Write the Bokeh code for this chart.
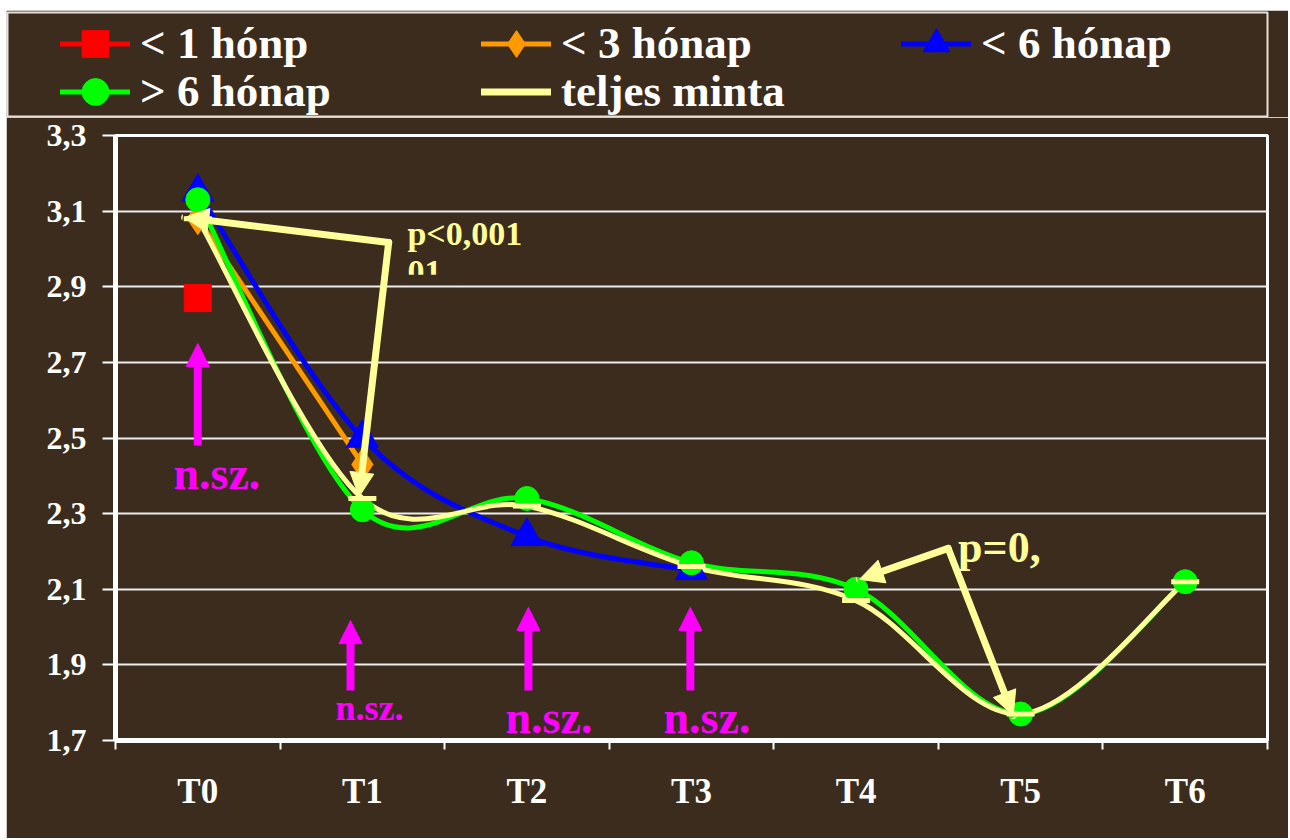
from bokeh.plotting import figure
from bokeh.models import (Range1d, FixedTicker, Legend, LegendItem, Arrow,
                          NormalHead, ColumnDataSource)
from bokeh.core.properties import value
from bokeh.embed import file_html
from bokeh.resources import INLINE

# ---------------- data ----------------
categories = ["T0", "T1", "T2", "T3", "T4", "T5", "T6"]
lt1_month = [2.87]                                        # < 1 hónp
lt3_month = [3.08, 2.43]                                  # < 3 hónap
lt6_month = [3.15, 2.50, 2.24, 2.15]                      # < 6 hónap
gt6_month = [3.13, 2.31, 2.34, 2.17, 2.10, 1.77, 2.12]    # > 6 hónap
full_sample = [3.08, 2.34, 2.32, 2.16, 2.07, 1.77, 2.12]  # teljes minta
series_names = ["< 1 hónp", "< 3 hónap", "< 6 hónap", "> 6 hónap", "teljes minta"]
y_ticks = [1.7, 1.9, 2.1, 2.3, 2.5, 2.7, 2.9, 3.1, 3.3]
y_tick_labels = ["1,7", "1,9", "2,1", "2,3", "2,5", "2,7", "2,9", "3,1", "3,3"]

# ---------------- styles ----------------
BG = "#3B2C1E"
RED = "#FF0000"
ORANGE = "#FF9900"
BLUE = "#0000FF"
GREEN = "#00FF00"
YEL = "#FFFF99"
MAG = "#FF00FF"
FONT_NAME = "Liberation Serif"
FONT = value(FONT_NAME)
W = 1282

xs = [i + 0.5 for i in range(len(categories))]


def smooth_segments(vals):
    n = len(vals)
    px = xs[:n]
    seg = dict(x0=[], y0=[], x1=[], y1=[], cx0=[], cy0=[], cx1=[], cy1=[])
    for i in range(n - 1):
        a = max(i - 1, 0)
        d = min(i + 2, n - 1)
        seg["x0"].append(px[i]); seg["y0"].append(vals[i])
        seg["x1"].append(px[i + 1]); seg["y1"].append(vals[i + 1])
        seg["cx0"].append(px[i] + (px[i + 1] - px[a]) / 6)
        seg["cy0"].append(vals[i] + (vals[i + 1] - vals[a]) / 6)
        seg["cx1"].append(px[i + 1] - (px[d] - px[i]) / 6)
        seg["cy1"].append(vals[i + 1] - (vals[d] - vals[i]) / 6)
    return ColumnDataSource(seg)


# ---------------- legend figure ----------------
lf = figure(width=W, height=107, x_range=Range1d(0, 1), y_range=Range1d(0, 1),
            x_axis_type=None, y_axis_type=None, toolbar_location=None,
            output_backend="svg", background_fill_color=BG, border_fill_color=BG,
            outline_line_color="#E8E2DA", outline_line_width=2,
            min_border_left=1, min_border_right=21, min_border_top=2,
            min_border_bottom=1)
lf.styles = {"margin-left": "6px", "margin-top": "10px"}

nan = float("nan")


def proxy(color, marker, lw):
    rs = [lf.line(x=[nan, nan], y=[nan, nan], line_color=color, line_width=lw,
                  line_cap="round")]
    if marker:
        rs.append(lf.scatter(x=[nan], y=[nan], marker=marker, size=27,
                             fill_color=color, line_color=color))
    return rs


proxies = [proxy(RED, "square", 5), proxy(ORANGE, "diamond", 5),
           proxy(BLUE, "triangle", 5), proxy(GREEN, "circle", 5), proxy(YEL, None, 7)]
leg_pos = [(53, 39.5), (474, 39.5), (894, 39.5), (53, -8.5), (474, -8.5)]
for name, rs, pos in zip(series_names, proxies, leg_pos):
    leg = Legend(items=[LegendItem(label=name, renderers=rs)], location=pos,
                 orientation="vertical", padding=0, margin=0, spacing=0,
                 glyph_width=70, glyph_height=67, label_standoff=10,
                 label_text_font=FONT_NAME, label_text_font_style="bold",
                 label_text_font_size="45px", label_text_color="white",
                 border_line_color=None, background_fill_alpha=0)
    lf.add_layout(leg)

# ---------------- chart figure ----------------
p = figure(width=W, height=721, x_range=Range1d(0, 7), y_range=Range1d(1.7, 3.3),
           toolbar_location=None, output_backend="svg",
           background_fill_color=BG, border_fill_color=BG,
           min_border_left=109, min_border_right=21, min_border_top=18,
           min_border_bottom=98, outline_line_color="white", outline_line_width=3)
p.styles = {"margin-left": "6px"}

xt = FixedTicker(ticks=xs, minor_ticks=list(range(len(categories) + 1)))
p.xaxis.ticker = xt
p.xaxis.major_label_overrides = {x: c for x, c in zip(xs, categories)}
p.xaxis.major_tick_line_color = None
p.xaxis.major_tick_out = 9
p.xaxis.major_tick_in = 0
p.xaxis.minor_tick_out = 9
p.xaxis.minor_tick_in = 0
p.xaxis.minor_tick_line_color = "white"
p.xaxis.minor_tick_line_width = 2
p.xaxis.axis_line_color = "white"
p.xaxis.axis_line_width = 5
p.xaxis.major_label_standoff = 22
p.xaxis.major_label_text_font = FONT_NAME
p.xaxis.major_label_text_font_style = "bold"
p.xaxis.major_label_text_font_size = "35px"
p.xaxis.major_label_text_color = "white"

yt = FixedTicker(ticks=y_ticks, minor_ticks=[])
p.yaxis.ticker = yt
p.yaxis.major_label_overrides = {v: s for v, s in zip(y_ticks, y_tick_labels)}
p.yaxis.major_tick_out = 13
p.yaxis.major_tick_in = 0
p.yaxis.major_tick_line_color = "white"
p.yaxis.major_tick_line_width = 2
p.yaxis.minor_tick_line_color = None
p.yaxis.axis_line_color = "white"
p.yaxis.axis_line_width = 5
p.yaxis.major_label_standoff = 16
p.yaxis.major_label_text_font = FONT_NAME
p.yaxis.major_label_text_font_style = "bold"
p.yaxis.major_label_text_font_size = "32px"
p.yaxis.major_label_text_color = "white"

p.xgrid.visible = False
p.ygrid.ticker = yt
p.ygrid.grid_line_color = "#EDEDED"
p.ygrid.grid_line_width = 2

# smoothed lines
for vals, col in [(lt3_month, ORANGE), (lt6_month, BLUE), (gt6_month, GREEN),
                  (full_sample, YEL)]:
    p.bezier(x0="x0", y0="y0", x1="x1", y1="y1", cx0="cx0", cy0="cy0", cx1="cx1",
             cy1="cy1", source=smooth_segments(vals), line_color=col, line_width=5,
             line_cap="round")

# markers
p.scatter(x=xs[:len(lt1_month)], y=lt1_month, marker="square", size=27, color=RED)
p.scatter(x=xs[:len(lt3_month)], y=lt3_month, marker="diamond", size=32, color=ORANGE)
p.scatter(x=xs[:len(lt6_month)], y=lt6_month, marker="triangle", size=32, color=BLUE)
p.scatter(x=xs[:len(gt6_month)], y=gt6_month, marker="circle", size=24, color=GREEN)
p.scatter(x=xs[:len(full_sample)], y=full_sample, marker="dash", size=28,
          line_color=YEL, line_width=5)

# texts
p.text(x=[0.352, 2.37, 3.33], y=[2.406, 1.761, 1.761], text=["n.sz.", "n.sz.", "n.sz."],
       text_font=FONT, text_font_style="bold", text_font_size="46px", text_color=MAG,
       text_baseline="middle", text_align="left")
p.text(x=[1.337], y=[1.785], text=["n.sz."],
       text_font=FONT, text_font_style="bold", text_font_size="36px", text_color=MAG,
       text_baseline="middle", text_align="left")
p.text(x=[1.774, 1.774], y=[3.040, 2.939], text=["p<0,001", "01"],
       text_font=FONT, text_font_style="bold", text_font_size="34px", text_color=YEL,
       text_baseline="middle", text_align="left")
p.quad(left=[1.73], right=[2.1], top=[2.932], bottom=[2.905], fill_color=BG,
       line_color=None)
p.text(x=[5.12], y=[2.21], text=["p=0,"],
       text_font=FONT, text_font_style="bold", text_font_size="44px", text_color=YEL,
       text_baseline="middle", text_align="left")

# magenta arrows
for xa, y0, y1 in [(0.5, 2.48, 2.75), (1.428, 1.832, 2.017), (2.509, 1.832, 2.052),
                   (3.493, 1.832, 2.052)]:
    p.add_layout(Arrow(end=NormalHead(size=23, fill_color=MAG, line_color=MAG,
                                      line_width=1),
                       x_start=xa, y_start=y0, x_end=xa, y_end=y1,
                       line_color=MAG, line_width=8))

# yellow significance arrows
for xs0, ys0, xe, ye in [(1.66, 3.017, 0.42, 3.083), (1.66, 3.017, 1.48, 2.345),
                         (5.06, 2.208, 4.52, 2.126), (5.06, 2.208, 5.455, 1.766)]:
    p.add_layout(Arrow(end=NormalHead(size=24, fill_color=YEL, line_color=YEL,
                                      line_width=1),
                       x_start=xs0, y_start=ys0, x_end=xe, y_end=ye,
                       line_color=YEL, line_width=7, line_cap="round"))

open("out.html", "w").write(file_html([lf, p], INLINE))
